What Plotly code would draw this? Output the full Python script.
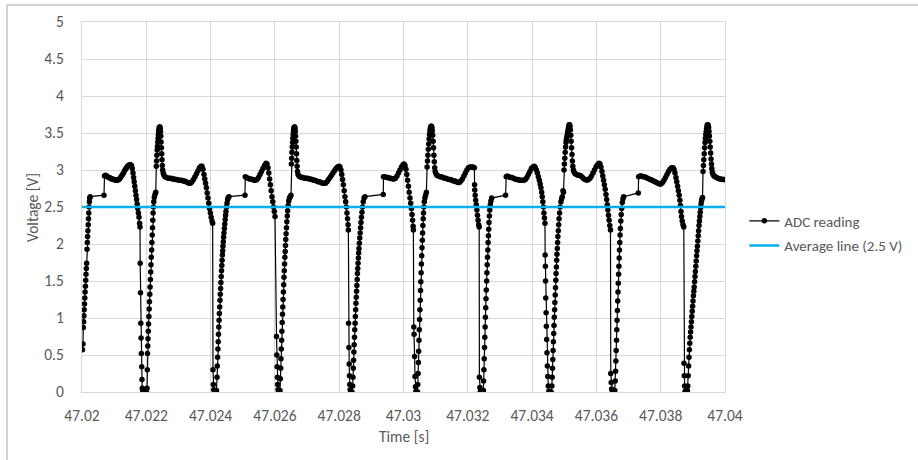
import plotly.graph_objects as go

# ADC samples: time in microseconds after 47.02 s, voltage in V
adc_time_us = [
    16, 31, 40, 50, 59, 68, 78, 87, 96, 106, 115, 124, 134, 143, 156, 165, 174, 183, 193, 202, 211, 221, 230, 239, 255,
    684, 700, 731, 762, 793, 824, 855, 886, 918, 949, 980, 1011, 1042, 1073, 1104, 1135, 1166, 1197, 1229, 1260, 1291,
    1322, 1353, 1384, 1415, 1446, 1477, 1508, 1539, 1564, 1586, 1605, 1623, 1642, 1661, 1679, 1698, 1717, 1735, 1754,
    1773, 1791, 1804, 1810, 1819, 1829, 1838, 1847, 1857, 1866, 1875, 1891, 1913, 1944, 1975, 2006,
    2022, 2031, 2037, 2046, 2053, 2062, 2071, 2081, 2090, 2099, 2109, 2118, 2127, 2137, 2146, 2155, 2165, 2174, 2183,
    2193, 2202, 2211, 2221, 2233, 2249, 2270, 2295,
    2311, 2320, 2329, 2339, 2348, 2357, 2367, 2376, 2385, 2395, 2404, 2413, 2423, 2432, 2441, 2451, 2460, 2469, 2479,
    2488, 2497, 2510, 2525, 2550, 2581,
    2628, 2674, 2721, 2768, 2815, 2861, 2908, 2955, 3002, 3048, 3095, 3141, 3188, 3234, 3281, 3328, 3374, 3421, 3468,
    3514, 3561, 3608, 3654, 3701, 3732, 3763, 3794, 3819, 3844, 3869, 3893, 3918, 3943, 3968, 3993, 4018, 4043, 4064,
    4074, 4086, 4099, 4121, 4152, 4183,
    4199, 4208, 4217, 4227, 4236, 4245, 4255, 4264, 4273, 4283, 4292, 4301, 4311, 4320, 4329, 4339, 4348, 4357, 4367,
    4376, 4385, 4395, 4404, 4416, 4429, 4441, 4454, 4466, 4478, 4494, 4510, 4529, 4550, 4572,
    5069, 5079, 5116, 5163, 5209, 5256, 5303, 5349, 5396, 5443, 5489, 5536, 5583, 5629, 5676, 5723, 5754, 5785, 5810,
    5835, 5860, 5884, 5909, 5934, 5959, 5981, 6003,
    6050, 6059, 6069, 6078, 6087, 6097, 6115, 6137, 6158,
    6170, 6180, 6189, 6198, 6208, 6217, 6226, 6236, 6245, 6254, 6264, 6273, 6282, 6292, 6301, 6310, 6320, 6329, 6338,
    6348, 6360, 6372, 6385, 6397, 6413, 6431, 6453, 6478, 6500,
    6513, 6522, 6531, 6541, 6550, 6559, 6569, 6578, 6587, 6597, 6606, 6615, 6625, 6634, 6643, 6653, 6662, 6671, 6681,
    6690, 6702, 6721, 6749, 6780,
    6827, 6873, 6920, 6966, 7013, 7060, 7106, 7153, 7200, 7246, 7293, 7340, 7386, 7433, 7480, 7526, 7573, 7620, 7666,
    7713, 7760, 7806, 7853, 7900, 7946, 7993, 8024, 8055, 8080, 8105, 8130, 8154, 8179, 8201, 8223, 8242, 8260, 8276,
    8285,
    8291, 8301, 8310, 8319, 8329, 8341, 8366, 8397,
    8419, 8428, 8438, 8447, 8456, 8466, 8475, 8484, 8494, 8503, 8512, 8521, 8531, 8540, 8549, 8559, 8568, 8577, 8587,
    8596, 8605, 8615, 8627, 8640, 8652, 8664, 8677, 8692, 8708, 8726, 8748, 8773, 8801,
    9370, 9377, 9424, 9470, 9517, 9564, 9610, 9657, 9704, 9750, 9797, 9844, 9890, 9937, 9984, 10015, 10046, 10077,
    10102, 10127, 10152, 10177, 10201, 10223, 10245, 10264, 10282, 10298, 10307,
    10320, 10329, 10345, 10357, 10373, 10388, 10413, 10438,
    10444, 10454, 10463, 10472, 10482, 10491, 10500, 10510, 10519, 10529, 10538, 10547, 10556, 10566, 10575, 10585,
    10594, 10603, 10613, 10622, 10634, 10647, 10665, 10687, 10712,
    10734, 10746, 10759, 10771, 10784, 10796, 10809, 10821, 10834, 10846, 10858, 10871, 10883, 10896, 10908, 10921,
    10933, 10946, 10958, 10970, 10986, 11011, 11039,
    11085, 11132, 11179, 11225, 11272, 11319, 11365, 11412, 11459, 11505, 11552, 11599, 11645, 11692, 11738, 11785,
    11832, 11878, 11925, 11972, 12018, 12065, 12112, 12158, 12205,
    12211, 12217, 12230, 12245, 12264, 12283, 12301, 12320, 12339, 12354,
    12360, 12376, 12392, 12423, 12454, 12485,
    12491, 12501, 12510, 12519, 12529, 12538, 12547, 12557, 12566, 12575, 12585, 12594, 12603, 12613, 12622, 12631,
    12641, 12650, 12659, 12672, 12684, 12700, 12718, 12743,
    13175, 13194, 13231, 13278, 13324, 13371, 13418, 13464, 13511, 13558, 13604, 13651, 13698, 13744, 13791, 13838,
    13884, 13931, 13978, 14024, 14071, 14102, 14133, 14164, 14195, 14226, 14251, 14275, 14297, 14315, 14334, 14353,
    14368, 14384, 14400,
    14406, 14413, 14419, 14425, 14435, 14444, 14453, 14463, 14475, 14488, 14503, 14522, 14544, 14569, 14594,
    14616, 14625, 14634, 14644, 14653, 14662, 14672, 14681, 14690, 14700, 14709, 14718, 14728, 14737, 14746, 14756,
    14765, 14774, 14784, 14793, 14802, 14815, 14827, 14839, 14855, 14874, 14896, 14917, 14939, 14961, 14976,
    14992, 15004, 15017, 15029, 15042, 15054, 15066, 15079, 15091, 15104, 15116, 15129, 15141, 15154, 15166, 15179,
    15191, 15203, 15216, 15228, 15241, 15253, 15266, 15284, 15309, 15340,
    15380, 15427, 15474, 15520, 15567, 15614, 15660, 15707, 15754, 15800, 15847, 15894, 15940, 15987, 16034, 16080,
    16111, 16142, 16174, 16198, 16223, 16248, 16273, 16298, 16320, 16339, 16357, 16376, 16395, 16417, 16438,
    16447, 16460, 16475, 16497, 16522, 16547, 16572,
    16587, 16597, 16606, 16615, 16625, 16634, 16643, 16653, 16662, 16672, 16681, 16690, 16700, 16709, 16718, 16728,
    16737, 16746, 16759, 16771, 16787, 16805, 16827, 16849,
    17303, 17313, 17356, 17403, 17448, 17496, 17543, 17589, 17636, 17682, 17729, 17776, 17822, 17869, 17916, 17962,
    18009, 18056, 18102, 18149, 18196, 18242, 18289, 18336, 18382, 18413, 18444, 18475, 18500, 18525, 18550, 18575,
    18597, 18615, 18631, 18647, 18668, 18693, 18718,
    18724, 18733, 18743, 18758, 18780, 18805, 18830,
    18843, 18855, 18868, 18880, 18892, 18905, 18917, 18930, 18942, 18955, 18967, 18980, 18992, 19005, 19017, 19030,
    19042, 19055, 19067, 19079, 19092, 19104, 19117, 19129, 19142, 19154, 19167, 19179, 19192, 19204, 19217, 19229,
    19242, 19254, 19270, 19285, 19301,
    19316, 19329, 19341, 19354, 19366, 19379, 19391, 19403, 19416, 19428, 19441, 19453, 19466, 19478, 19491, 19503,
    19515, 19528, 19540, 19553, 19565, 19578, 19590, 19606, 19627, 19659, 19696,
    19736, 19783, 19829, 19876, 19922, 19969, 19995,
]

adc_voltage = [
    0.57, 0.65, 0.87, 0.95, 1.03, 1.11, 1.19, 1.27, 1.35, 1.43, 1.51, 1.59, 1.67, 1.74, 1.93, 2.02, 2.10, 2.18, 2.26, 2.34, 2.42, 2.50, 2.57, 2.62, 2.64,
    2.66, 2.92, 2.93, 2.92, 2.91, 2.90, 2.90, 2.89, 2.88, 2.88, 2.87, 2.87, 2.86, 2.86, 2.86, 2.87, 2.88, 2.90, 2.92, 2.94, 2.96,
    2.99, 3.01, 3.03, 3.05, 3.06, 3.07, 3.07, 3.06, 3.02, 2.96, 2.90, 2.84, 2.78, 2.72, 2.66, 2.60, 2.54, 2.48, 2.42,
    2.36, 2.28, 2.23, 1.74, 1.34, 0.93, 0.73, 0.52, 0.34, 0.17, 0.05, 0.02, 0.00, 0.00, 0.00, 0.00,
    0.05, 0.30, 0.52, 0.62, 0.72, 0.82, 0.92, 1.02, 1.12, 1.22, 1.32, 1.42, 1.52, 1.62, 1.72, 1.82, 1.92, 2.02, 2.12,
    2.22, 2.32, 2.42, 2.50, 2.57, 2.63, 2.67, 2.70,
    3.05, 3.12, 3.20, 3.27, 3.32, 3.38, 3.43, 3.48, 3.52, 3.55, 3.57, 3.58, 3.58, 3.56, 3.52, 3.46, 3.38, 3.30, 3.22,
    3.14, 3.06, 3.00, 2.96, 2.93, 2.91,
    2.90, 2.89, 2.89, 2.89, 2.88, 2.88, 2.87, 2.87, 2.86, 2.86, 2.86, 2.85, 2.85, 2.84, 2.83, 2.82, 2.82, 2.84, 2.87,
    2.91, 2.95, 2.99, 3.03, 3.05, 3.05, 3.01, 2.94, 2.88, 2.82, 2.76, 2.69, 2.62, 2.55, 2.48, 2.42, 2.36, 2.31, 2.28,
    0.30, 0.10, 0.03, 0.00, 0.00, 0.02,
    0.20, 0.35, 0.47, 0.58, 0.68, 0.78, 0.88, 0.97, 1.06, 1.15, 1.24, 1.32, 1.40, 1.48, 1.56, 1.64, 1.71, 1.78, 1.85,
    1.91, 1.97, 2.03, 2.09, 2.15, 2.21, 2.27, 2.33, 2.39, 2.44, 2.50, 2.55, 2.60, 2.63, 2.64,
    2.66, 2.91, 2.90, 2.89, 2.88, 2.88, 2.87, 2.86, 2.86, 2.87, 2.90, 2.94, 2.98, 3.02, 3.06, 3.09, 3.08, 3.03, 2.96,
    2.88, 2.80, 2.72, 2.64, 2.57, 2.50, 2.44, 2.37,
    0.75, 0.50, 0.34, 0.20, 0.10, 0.03, 0.00, 0.00, 0.02,
    0.18, 0.32, 0.45, 0.58, 0.70, 0.82, 0.94, 1.05, 1.15, 1.25, 1.35, 1.45, 1.55, 1.64, 1.73, 1.82, 1.90, 1.98, 2.06,
    2.14, 2.22, 2.30, 2.38, 2.45, 2.52, 2.58, 2.62, 2.64, 2.66,
    3.08, 3.16, 3.24, 3.31, 3.37, 3.43, 3.48, 3.52, 3.55, 3.57, 3.58, 3.58, 3.56, 3.52, 3.46, 3.39, 3.31, 3.22, 3.13,
    3.05, 2.98, 2.94, 2.92, 2.91,
    2.90, 2.90, 2.89, 2.89, 2.89, 2.88, 2.88, 2.87, 2.86, 2.86, 2.85, 2.84, 2.84, 2.83, 2.82, 2.82, 2.82, 2.84, 2.87,
    2.90, 2.93, 2.96, 2.99, 3.02, 3.04, 3.05, 3.04, 3.00, 2.94, 2.87, 2.80, 2.72, 2.64, 2.57, 2.50, 2.42, 2.34, 2.26,
    2.19,
    0.93, 0.60, 0.38, 0.22, 0.10, 0.03, 0.00, 0.00,
    0.08, 0.20, 0.32, 0.43, 0.54, 0.64, 0.74, 0.84, 0.93, 1.02, 1.11, 1.20, 1.28, 1.36, 1.44, 1.52, 1.60, 1.67, 1.74,
    1.81, 1.88, 1.94, 2.01, 2.08, 2.15, 2.22, 2.29, 2.36, 2.43, 2.50, 2.57, 2.62, 2.64,
    2.67, 2.91, 2.91, 2.90, 2.90, 2.89, 2.89, 2.88, 2.88, 2.89, 2.92, 2.96, 3.00, 3.04, 3.07, 3.08, 3.06, 3.01,
    2.94, 2.86, 2.78, 2.70, 2.62, 2.55, 2.48, 2.40, 2.32, 2.24, 2.19,
    0.88, 0.78, 0.48, 0.21, 0.07, 0.01, 0.00, 0.00,
    0.10, 0.25, 0.40, 0.55, 0.70, 0.84, 0.98, 1.11, 1.24, 1.37, 1.49, 1.61, 1.73, 1.84, 1.95, 2.05,
    2.15, 2.25, 2.34, 2.42, 2.50, 2.57, 2.62, 2.66, 2.70,
    3.04, 3.12, 3.20, 3.28, 3.35, 3.42, 3.48, 3.53, 3.56, 3.58, 3.59, 3.59, 3.57, 3.53, 3.47, 3.39,
    3.30, 3.20, 3.11, 3.03, 2.98, 2.95, 2.93,
    2.92, 2.91, 2.91, 2.90, 2.89, 2.89, 2.88, 2.87, 2.87, 2.86, 2.85, 2.85, 2.84, 2.83, 2.83, 2.85,
    2.88, 2.92, 2.96, 3.00, 3.03, 3.04, 3.04, 3.04, 3.03,
    2.80, 2.73, 2.66, 2.59, 2.53, 2.46, 2.39, 2.32, 2.26, 2.23,
    0.20, 0.06, 0.01, 0.00, 0.00, 0.02,
    0.15, 0.30, 0.45, 0.60, 0.74, 0.88, 1.01, 1.14, 1.26, 1.38, 1.50, 1.61, 1.72, 1.82, 1.92, 2.02,
    2.11, 2.20, 2.29, 2.38, 2.46, 2.53, 2.58, 2.62,
    2.66, 2.91, 2.92, 2.91, 2.90, 2.90, 2.89, 2.88, 2.87, 2.87, 2.86, 2.86, 2.86, 2.86, 2.87, 2.90,
    2.94, 2.98, 3.02, 3.04, 3.05, 3.03, 3.00, 2.96, 2.91, 2.86, 2.81, 2.76, 2.70, 2.64, 2.57, 2.50,
    2.42, 2.35, 2.28,
    1.85, 1.70, 1.50, 1.27, 1.07, 0.89, 0.71, 0.53, 0.35, 0.21, 0.08, 0.01, 0.00, 0.00, 0.00,
    0.08, 0.20, 0.32, 0.44, 0.56, 0.68, 0.79, 0.90, 1.01, 1.11, 1.21, 1.31, 1.41, 1.51, 1.60, 1.69,
    1.78, 1.86, 1.94, 2.02, 2.10, 2.18, 2.26, 2.34, 2.42, 2.50, 2.57, 2.61, 2.64, 2.72, 2.70,
    3.00, 3.08, 3.16, 3.24, 3.31, 3.37, 3.41, 3.44, 3.47, 3.50, 3.53, 3.56, 3.59, 3.61, 3.61, 3.59,
    3.54, 3.47, 3.39, 3.30, 3.21, 3.12, 3.05, 3.00, 2.97, 2.95,
    2.94, 2.93, 2.93, 2.92, 2.90, 2.88, 2.87, 2.86, 2.87, 2.89, 2.92, 2.96, 3.00, 3.04, 3.07, 3.09,
    3.08, 3.04, 2.98, 2.92, 2.86, 2.80, 2.74, 2.67, 2.60, 2.53, 2.46, 2.39, 2.32, 2.25, 2.19,
    0.25, 0.13, 0.04, 0.00, 0.00, 0.00, 0.02,
    0.15, 0.28, 0.42, 0.56, 0.70, 0.84, 0.97, 1.10, 1.23, 1.35, 1.47, 1.59, 1.70, 1.81, 1.92, 2.02,
    2.12, 2.21, 2.31, 2.40, 2.48, 2.56, 2.61, 2.64,
    2.69, 2.91, 2.92, 2.92, 2.91, 2.91, 2.90, 2.89, 2.88, 2.87, 2.86, 2.85, 2.84, 2.83, 2.82, 2.81,
    2.81, 2.83, 2.86, 2.90, 2.94, 2.98, 3.01, 3.03, 3.03, 3.01, 2.96, 2.90, 2.84, 2.78, 2.72, 2.66,
    2.59, 2.52, 2.44, 2.37, 2.31, 2.26, 2.23,
    0.39, 0.22, 0.08, 0.01, 0.00, 0.00, 0.02,
    0.08, 0.22, 0.35, 0.47, 0.57, 0.66, 0.74, 0.81, 0.88, 0.95, 1.02, 1.09, 1.16, 1.23, 1.30, 1.36,
    1.42, 1.49, 1.56, 1.63, 1.70, 1.77, 1.84, 1.91, 1.97, 2.04, 2.11, 2.18, 2.25, 2.31, 2.37, 2.43,
    2.49, 2.54, 2.58, 2.61, 2.63,
    2.98, 3.06, 3.14, 3.22, 3.30, 3.37, 3.43, 3.48, 3.52, 3.56, 3.59, 3.61, 3.61, 3.60, 3.57, 3.52,
    3.46, 3.39, 3.31, 3.23, 3.15, 3.08, 3.02, 2.97, 2.94, 2.92, 2.91,
    2.90, 2.89, 2.88, 2.88, 2.87, 2.87, 2.87,
]

adc_time_s = [47.02 + us * 1e-6 for us in adc_time_us]

avg_time_s = [47.02, 47.04]
avg_voltage = [2.5, 2.5]

x_tick_vals = [47.02, 47.022, 47.024, 47.026, 47.028, 47.03, 47.032, 47.034, 47.036, 47.038, 47.04]
x_tick_text = ["47.02", "47.022", "47.024", "47.026", "47.028", "47.03", "47.032", "47.034", "47.036", "47.038", "47.04"]
y_tick_vals = [0, 0.5, 1, 1.5, 2, 2.5, 3, 3.5, 4, 4.5, 5]
y_tick_text = ["0", "0.5", "1", "1.5", "2", "2.5", "3", "3.5", "4", "4.5", "5"]

FONT = "Carlito, Lato, 'Open Sans', sans-serif"
TXT = "#595959"
GRID = "#d9d9d9"
FS = 15.5

fig = go.Figure()
fig.add_trace(go.Scatter(
    x=adc_time_s, y=adc_voltage, mode="lines+markers", name="ADC reading",
    line=dict(color="#000000", width=1.2),
    marker=dict(color="#000000", size=5.5, symbol="circle"),
    legend="legend",
))
fig.add_trace(go.Scatter(
    x=avg_time_s, y=avg_voltage, mode="lines", name="Average line (2.5 V)",
    line=dict(color="#00b0f0", width=2.5),
    legend="legend2",
))

fig.update_layout(
    width=918, height=460, autosize=False,
    margin=dict(l=82, r=193, t=22, b=68, autoexpand=False),
    paper_bgcolor="white", plot_bgcolor="white",
    font=dict(family=FONT, size=FS, color=TXT),
    showlegend=True,
    legend=dict(x=1.03, y=0.462, xanchor="left", yanchor="middle",
                font=dict(family=FONT, size=15, color=TXT), bgcolor="rgba(0,0,0,0)"),
    legend2=dict(x=1.03, y=0.395, xanchor="left", yanchor="middle",
                 font=dict(family=FONT, size=15, color=TXT), bgcolor="rgba(0,0,0,0)"),
    xaxis=dict(range=[47.02, 47.04], tickmode="array", tickvals=x_tick_vals, ticktext=x_tick_text,
               showgrid=True, gridcolor=GRID, gridwidth=1, zeroline=False,
               showline=True, linecolor=GRID, linewidth=1, mirror=True, automargin=False,
               ticks="", ticklabelstandoff=9, tickfont=dict(family=FONT, size=FS, color=TXT)),
    yaxis=dict(range=[0, 5], tickmode="array", tickvals=y_tick_vals, ticktext=y_tick_text,
               showgrid=True, gridcolor=GRID, gridwidth=1, zeroline=False,
               showline=True, linecolor=GRID, linewidth=1, mirror=True, automargin=False,
               ticks="", ticklabelstandoff=14, tickfont=dict(family=FONT, size=FS, color=TXT)),
    annotations=[
        dict(text="Voltage [V]", xref="paper", yref="paper", x=-0.0778, y=0.5, textangle=-90,
             showarrow=False, xanchor="center", yanchor="middle", font=dict(family=FONT, size=FS, color=TXT)),
        dict(text="Time [s]", xref="paper", yref="paper", x=0.5, y=-0.1216,
             showarrow=False, xanchor="center", yanchor="middle", font=dict(family=FONT, size=FS, color=TXT)),
    ],
    shapes=[
        dict(type="rect", xref="paper", yref="paper", x0=-0.1166, y0=-0.25, x1=1.35, y1=1.0459,
             line=dict(color="#a6a6a6", width=1), fillcolor="rgba(0,0,0,0)", layer="below"),
    ],
)

fig.write_html("out.html", config={"displayModeBar": False},
               post_script="document.body.style.margin='0';")
